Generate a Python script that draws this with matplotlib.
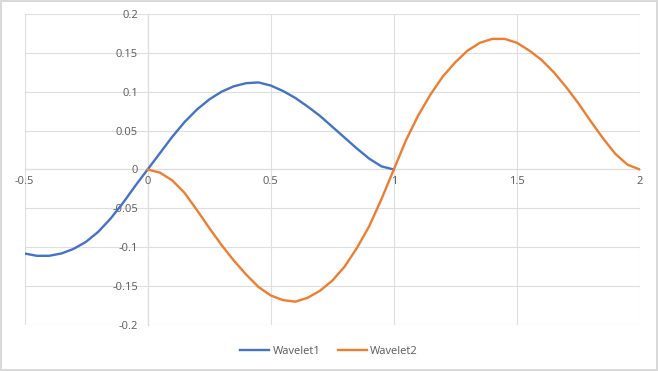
import numpy as np
import matplotlib
matplotlib.use('Agg')
import matplotlib.pyplot as plt

# values
x1 = [-0.5, -0.45, -0.4, -0.35, -0.3, -0.25, -0.2, -0.15, -0.1, -0.05,
      0.0, 0.05, 0.1, 0.15, 0.2, 0.25, 0.3, 0.35, 0.4, 0.45,
      0.5, 0.55, 0.6, 0.65, 0.7, 0.75, 0.8, 0.85, 0.9, 0.95, 1.0]
wavelet1 = [-0.108, -0.111, -0.111, -0.108, -0.102, -0.093, -0.080, -0.063, -0.043, -0.021,
            0.0, 0.021, 0.042, 0.061, 0.077, 0.090, 0.100, 0.107, 0.111, 0.112,
            0.108, 0.101, 0.092, 0.081, 0.069, 0.055, 0.041, 0.027, 0.014, 0.004, 0.0]

x2 = [0.0, 0.05, 0.1, 0.15, 0.2, 0.25, 0.3, 0.35, 0.4, 0.45,
      0.5, 0.55, 0.6, 0.65, 0.7, 0.75, 0.8, 0.85, 0.9, 0.95,
      1.0, 1.05, 1.1, 1.15, 1.2, 1.25, 1.3, 1.35, 1.4, 1.45,
      1.5, 1.55, 1.6, 1.65, 1.7, 1.75, 1.8, 1.85, 1.9, 1.95, 2.0]
wavelet2 = [0.0, -0.004, -0.014, -0.030, -0.052, -0.075, -0.097, -0.117, -0.135, -0.151,
            -0.162, -0.168, -0.170, -0.165, -0.156, -0.143, -0.125, -0.101, -0.073, -0.038,
            0.0, 0.038, 0.070, 0.097, 0.120, 0.138, 0.153, 0.163, 0.168, 0.168,
            0.163, 0.153, 0.141, 0.125, 0.106, 0.085, 0.062, 0.040, 0.020, 0.006, 0.0]

xticks = [-0.5, 0, 0.5, 1, 1.5, 2]
xtick_labels = ['-0.5', '0', '0.5', '1', '1.5', '2']
yticks = [-0.2, -0.15, -0.1, -0.05, 0, 0.05, 0.1, 0.15, 0.2]
ytick_labels = ['-0.2', '-0.15', '-0.1', '-0.05', '0', '0.05', '0.1', '0.15', '0.2']

plt.rcParams['font.family'] = ['Open Sans', 'DejaVu Sans']

fig = plt.figure(figsize=(6.58, 3.71), dpi=100)
fig.patch.set_edgecolor('#d9d9d9')
fig.patch.set_linewidth(1.5)

W, H = 658, 371
ax = fig.add_axes([24.5 / W, 1 - 325 / H, (640 - 24.5) / W, (325 - 14) / H])

ax.plot(x1, wavelet1, color='#4472C4', lw=1.7, label='Wavelet1')
ax.plot(x2, wavelet2, color='#ED7D31', lw=1.7, label='Wavelet2')

ax.set_xlim(-0.5, 2)
ax.set_ylim(-0.2, 0.2)
ax.set_xticks(xticks)
ax.set_xticklabels(xtick_labels)
ax.set_yticks(yticks)
ax.set_yticklabels(ytick_labels)
ax.grid(True, color='#dedede', lw=0.8)
ax.set_axisbelow(True)

for s in ['top', 'right']:
    ax.spines[s].set_visible(False)
ax.spines['left'].set_position(('data', 0))
ax.spines['bottom'].set_position(('data', 0))
ax.spines['left'].set_color('#c8c8c8')
ax.spines['bottom'].set_color('#c8c8c8')
ax.spines['left'].set_zorder(0.5)
ax.spines['bottom'].set_zorder(0.5)

ax.tick_params(length=0, labelsize=8, labelcolor='#595959')
ax.tick_params(axis='y', pad=7)
ax.tick_params(axis='x', pad=5)

fig.legend(loc='lower center', bbox_to_anchor=(0.5, 0.01), ncol=2, frameon=False,
           fontsize=8, labelcolor='#595959', handlelength=2.6, columnspacing=1.6,
           handletextpad=0.3)

fig.savefig('out.png', dpi=100)
